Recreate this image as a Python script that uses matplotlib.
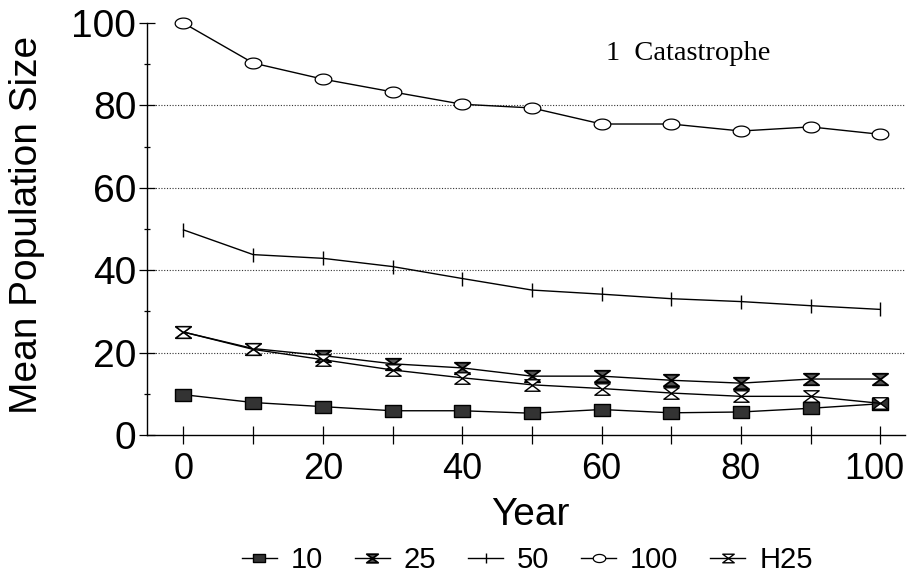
import numpy as np
import matplotlib
matplotlib.use("Agg")
import matplotlib.pyplot as plt
from matplotlib.path import Path
from matplotlib.transforms import ScaledTranslation

plt.rcParams['font.family'] = ['Liberation Sans', 'DejaVu Sans']

# data
years = [0, 10, 20, 30, 40, 50, 60, 70, 80, 90, 100]
n10 = [9.8, 7.9, 6.9, 5.9, 5.9, 5.3, 6.2, 5.4, 5.6, 6.5, 7.6]
n25 = [25.0, 21.0, 19.3, 17.3, 16.3, 14.3, 14.3, 13.3, 12.6, 13.6, 13.6]
n50 = [49.8, 43.8, 42.9, 40.9, 38.0, 35.2, 34.2, 33.1, 32.4, 31.4, 30.5]
n100 = [100.0, 90.3, 86.4, 83.3, 80.3, 79.4, 75.5, 75.5, 73.8, 74.8, 73.0]
h25 = [25.0, 20.8, 18.3, 15.8, 13.9, 12.2, 11.3, 10.2, 9.4, 9.4, 7.7]

labels = ['10', '25', '50', '100', 'H25']

# markers are a bit wider than tall in the original
hourglass = Path([(-1, 0.75), (1, 0.75), (-1, -0.75), (1, -0.75), (-1, 0.75)],
                 [Path.MOVETO, Path.LINETO, Path.LINETO, Path.LINETO, Path.CLOSEPOLY])
rect = Path([(-1, 0.75), (1, 0.75), (1, -0.75), (-1, -0.75), (-1, 0.75)],
            [Path.MOVETO, Path.LINETO, Path.LINETO, Path.LINETO, Path.CLOSEPOLY])
t = np.linspace(0, 2 * np.pi, 60)
ellipse = Path(np.column_stack([np.cos(t), 0.65 * np.sin(t)]))

fig = plt.figure(figsize=(9.09, 5.77), dpi=100)
ax = fig.add_axes([0.162, 0.246, 0.834, 0.714])

kw = dict(color='black', lw=1.0, clip_on=False, zorder=3)
ax.plot(years, n10, marker=rect, ms=11, mfc='#333333', mec='black', label=labels[0], **kw)
ax.plot(years, n25, marker=hourglass, ms=11, mfc='#555555', mec='black', mew=1.3, label=labels[1], **kw)
ax.plot(years, n50, marker='|', ms=10, mew=1.0, label=labels[2], **kw)
ax.plot(years, n100, marker=ellipse, ms=12, mfc='white', mec='black', mew=0.9, label=labels[3], **kw)
ax.plot(years, h25, marker=hourglass, ms=11, mfc='white', mec='black', mew=1.0, label=labels[4], **kw)

ax.set_xlim(-5.2, 103.6)
ax.set_ylim(0, 100)
ax.set_xticks(np.arange(0, 101, 20))
ax.set_xticks(np.arange(0, 101, 10), minor=True)
ax.set_yticks(np.arange(0, 101, 20))
ax.set_yticks(np.arange(0, 101, 10), minor=True)

for y in [20, 40, 60, 80]:
    ax.axhline(y, color='#333333', lw=0.8, ls=(0, (1, 1.5)), zorder=1)

for s in ['top', 'right']:
    ax.spines[s].set_visible(False)
ax.spines['left'].set_linewidth(1.0)
ax.spines['bottom'].set_linewidth(1.0)

ax.tick_params(axis='x', which='both', direction='inout', length=13, width=0.9, labelsize=26, pad=6)
ax.tick_params(axis='y', which='major', direction='inout', length=11, width=0.9, labelsize=28, pad=2.5)
ax.tick_params(axis='y', which='minor', direction='inout', length=5, width=0.9)

# last x label sits right against the edge in the original; nudge it in
fig.canvas.draw()
last = ax.get_xticklabels()[-1]
last.set_transform(last.get_transform() + ScaledTranslation(-4 / 72, 0, fig.dpi_scale_trans))

ax.set_xlabel('Year', fontsize=28)
ax.set_ylabel('Mean Population Size', fontsize=28)
ax.xaxis.set_label_coords(0.506, -0.15)
ax.yaxis.set_label_coords(-0.135, 0.511)

ax.text(60.7, 91.0, '1  Catastrophe', fontsize=20.5,
        family=['Liberation Serif', 'DejaVu Serif'], va='baseline')

ax.legend(loc='center', bbox_to_anchor=(0.58, 0.0295), bbox_transform=fig.transFigure,
          ncol=5, frameon=False, fontsize=21, handlelength=1.2, handletextpad=0.47,
          columnspacing=1.1, markerscale=0.75, borderpad=0, borderaxespad=0)

fig.savefig('out.png', dpi=100)
